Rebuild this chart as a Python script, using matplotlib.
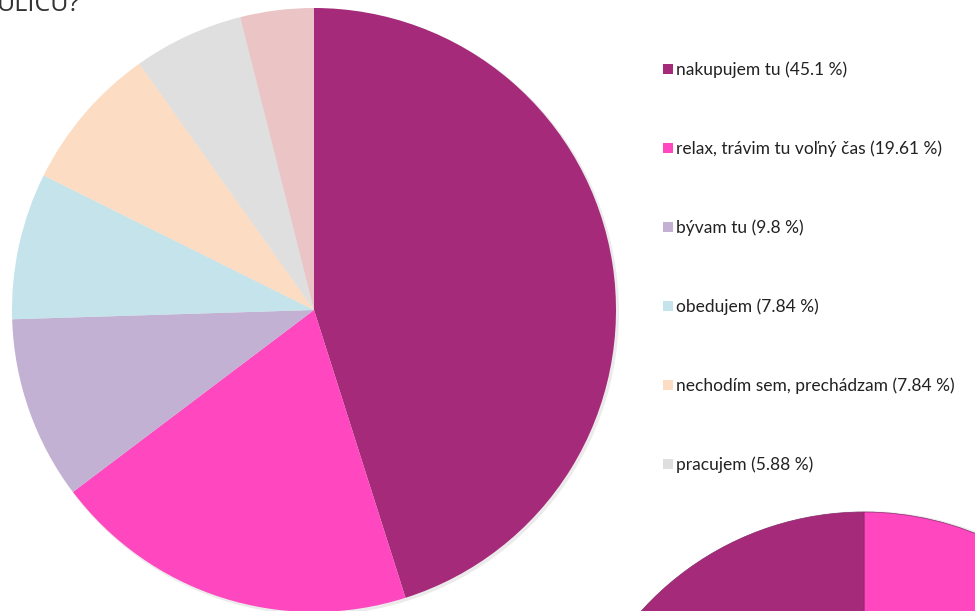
import matplotlib.pyplot as plt
from matplotlib.patches import Circle, Rectangle

# data for the main pie
labels = ["nakupujem tu", "relax, trávim tu voľný čas", "bývam tu", "obedujem",
          "nechodím sem, prechádzam", "pracujem", "iné"]
values = [45.1, 19.61, 9.8, 7.84, 7.84, 5.88, 3.93]
colors = ["#A52A7A", "#FF47C0", "#C3B1D3", "#C5E3EB", "#FCDDC3", "#DFDFDF", "#EBC5C5"]

# second (cut off) pie in the bottom right corner
values2 = [30.0, 30.0, 40.0]
colors2 = ["#FF47C0", "#C3B1D3", "#A52A7A"]

W, H = 975, 611
fig = plt.figure(figsize=(W / 100, H / 100), dpi=100)
ax = fig.add_axes([0, 0, 1, 1])

# soft shadow under the main pie
ax.add_patch(Circle((316, H - 312), 303, color="#000000", alpha=0.08, lw=0, zorder=0))
ax.pie(values, colors=colors, center=(314, H - 310), radius=302, startangle=90,
       counterclock=False, wedgeprops=dict(linewidth=0), frame=True)

ax.add_patch(Circle((866, H - 814), 303, color="#000000", alpha=0.08, lw=0, zorder=0))
ax.pie(values2, colors=colors2, center=(864, H - 812), radius=300, startangle=90,
       counterclock=False, wedgeprops=dict(linewidth=0.5, edgecolor="#8a2a6a"), frame=True)

ax.set_xlim(0, W)
ax.set_ylim(0, H)
ax.set_aspect("equal")
ax.axis("off")

# title, cut at top of the picture
ax.text(-3, H - 11, "ULICU?", fontsize=18, family="Open Sans", color="#333333",
        ha="left", va="baseline")

# legend (only the first six entries are visible)
for i in range(6):
    y = H - (69 + i * 79)
    ax.add_patch(Rectangle((663, y - 5), 10, 10, color=colors[i], lw=0))
    ax.text(676, y - 1, f"{labels[i]} ({values[i]} %)", fontsize=12.5, family="Lato",
            color="#222222", ha="left", va="center")

fig.savefig("out.png", dpi=100)
